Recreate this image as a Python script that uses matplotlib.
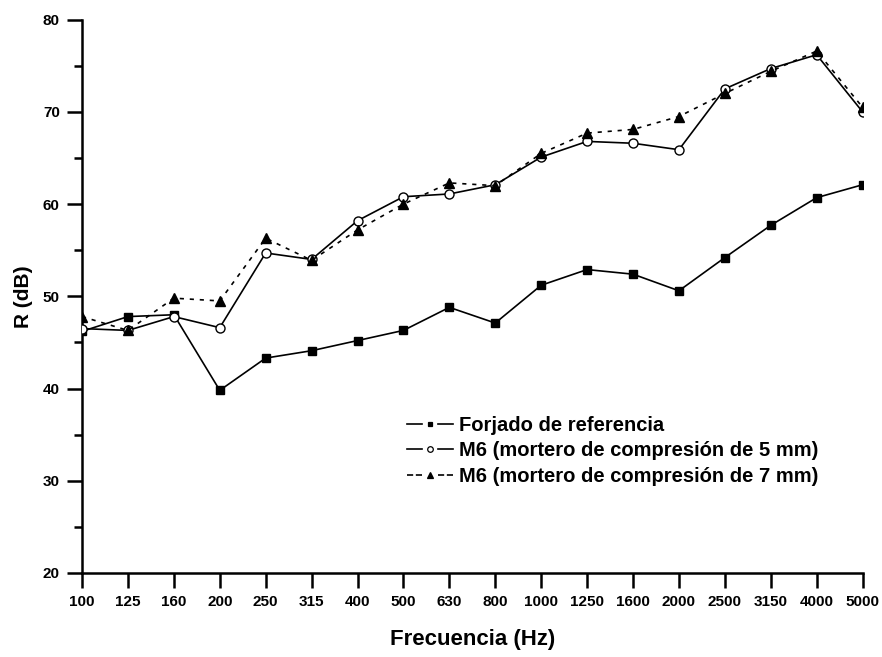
import matplotlib
matplotlib.use("Agg")
import matplotlib.pyplot as plt
from matplotlib.ticker import MultipleLocator
from matplotlib.legend_handler import HandlerBase
from matplotlib.lines import Line2D

plt.rcParams['font.family'] = ['Liberation Sans', 'DejaVu Sans']
plt.rcParams['font.weight'] = 'bold'

freqs = ["100", "125", "160", "200", "250", "315", "400", "500", "630", "800",
         "1000", "1250", "1600", "2000", "2500", "3150", "4000", "5000"]

forjado = [46.2, 47.8, 48.0, 39.8, 43.3, 44.1, 45.2, 46.3, 48.8, 47.1,
           51.2, 52.9, 52.4, 50.6, 54.2, 57.7, 60.7, 62.1]
m6_5mm = [46.5, 46.3, 47.8, 46.6, 54.7, 54.0, 58.2, 60.8, 61.1, 62.1,
          65.1, 66.8, 66.6, 65.9, 72.5, 74.7, 76.2, 70.0]
m6_7mm = [47.8, 46.3, 49.8, 49.5, 56.3, 53.9, 57.2, 60.0, 62.3, 62.0,
          65.5, 67.7, 68.1, 69.5, 72.0, 74.4, 76.6, 70.5]

labels = ["Forjado de referencia",
          "M6 (mortero de compresión de 5 mm)",
          "M6 (mortero de compresión de 7 mm)"]


class GapLineHandler(HandlerBase):
    """Legend key: line segment, small marker, line segment, with gaps."""

    def create_artists(self, legend, orig, xdescent, ydescent, width, height,
                       fontsize, trans):
        y = height / 2 - ydescent
        x0 = -xdescent
        x1 = width - xdescent
        mid = (x0 + x1) / 2
        gap = width * 0.17
        kw = dict(color=orig.get_color(), lw=orig.get_linewidth(),
                  ls=orig.get_linestyle())
        left = Line2D([x0, mid - gap], [y, y], **kw)
        right = Line2D([mid + gap, x1], [y, y], **kw)
        mark = Line2D([mid], [y], ls='none', marker=orig.get_marker(),
                      ms=orig.get_markersize() * 0.62,
                      mfc=orig.get_markerfacecolor(),
                      mec=orig.get_markeredgecolor(), mew=0.9)
        for a in (left, right, mark):
            a.set_transform(trans)
        return [left, right, mark]


fig = plt.figure(figsize=(8.82, 6.57), dpi=100)
ax = fig.add_axes([0.093, 0.128, 0.885, 0.842])

x = list(range(len(freqs)))
h1, = ax.plot(x, forjado, color='black', lw=1.2, marker='s', ms=5.5,
              mfc='black', mec='black', label=labels[0], zorder=3)
h2, = ax.plot(x, m6_5mm, color='black', lw=1.2, marker='o', ms=6.5,
              mfc='white', mec='black', mew=1.0, label=labels[1], zorder=4)
h3, = ax.plot(x, m6_7mm, color='black', lw=1.2, ls=(0, (2.5, 3.5)), marker='^',
              ms=7.5, mfc='black', mec='black', label=labels[2], zorder=5)

ax.set_xlim(0, len(freqs) - 1)
ax.set_ylim(20, 80)
ax.set_xticks(x)
ax.set_xticklabels(freqs)
ax.yaxis.set_major_locator(MultipleLocator(10))
ax.yaxis.set_minor_locator(MultipleLocator(5))

for side in ('top', 'right'):
    ax.spines[side].set_visible(False)
for side in ('left', 'bottom'):
    ax.spines[side].set_linewidth(1.8)

ax.tick_params(axis='both', which='major', direction='out', length=11, width=1.8,
               labelsize=11, pad=5)
ax.tick_params(axis='y', which='minor', direction='out', length=6, width=1.8)

for lab in ax.get_xticklabels() + ax.get_yticklabels():
    lab.set_fontweight('bold')

ax.set_xlabel("Frecuencia (Hz)", fontsize=16, fontweight='bold', labelpad=14)
ax.set_ylabel("R (dB)", fontsize=15, fontweight='bold', labelpad=7)

handler = GapLineHandler()
leg = ax.legend([h1, h2, h3], labels, loc='upper left',
                bbox_to_anchor=(0.416, 0.284), frameon=False,
                fontsize=14.5, handlelength=2.3, handletextpad=0.3,
                labelspacing=0.32, borderaxespad=0, borderpad=0,
                handler_map={h1: handler, h2: handler, h3: handler})
for t in leg.get_texts():
    t.set_fontweight('bold')

fig.savefig("out.png", dpi=100, facecolor='white')
